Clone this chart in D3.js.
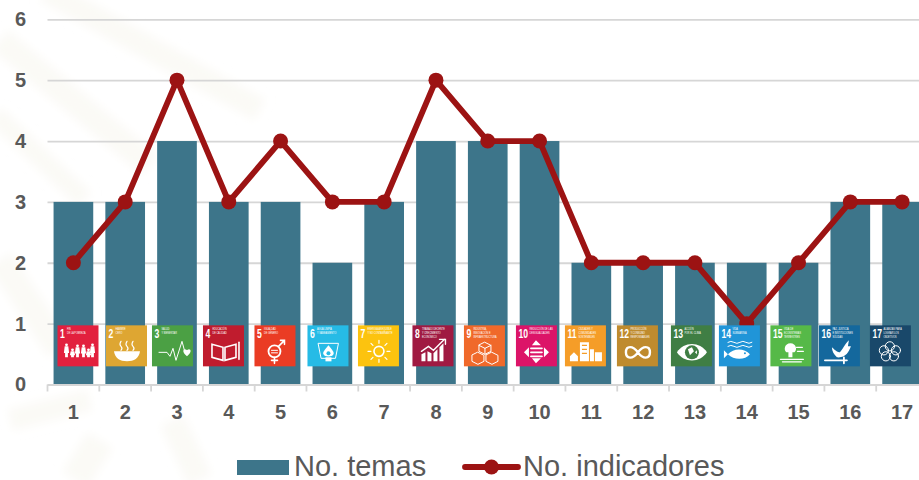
<!DOCTYPE html>
<html>
<head>
<meta charset="utf-8">
<script src="https://cdn.jsdelivr.net/npm/d3@7"></script>
<style>
	html, body { margin: 0; padding: 0; background: #fff; overflow: hidden; }
	svg { display: block; font-family: "Liberation Sans", Arial, sans-serif; }
	.axis text { font-size: 20px; font-weight: bold; fill: #595959; }
	.legend text { font-size: 29px; fill: #595959; }
	.sdg-num { font-weight: bold; font-size: 12px; fill: #fff; }
	.sdg-title { font-size: 3.3px; fill: #fff; }
</style>
</head>
<body>
<div id="chart"></div>
<script>
const categories = ["1","2","3","4","5","6","7","8","9","10","11","12","13","14","15","16","17"];
const temas = [3,3,4,3,3,2,3,4,4,4,2,2,2,2,2,3,3];
const indicadores = [2,3,5,3,4,3,3,5,4,4,2,2,2,1,2,3,3];
const yTicks = [0,1,2,3,4,5,6];
const seriesNames = ["No. temas", "No. indicadores"];

const sdgColors = ["#e2203e","#dea632","#4ba044","#c01c2e","#ea3c24","#26bbe6","#fcc30f","#a01a42","#f0692a","#dc1468",
	"#f59d28","#bf8b2e","#3f7e44","#2095d8","#56b948","#14689d","#19486a"];
const sdgTitles = [
	["FIN","DE LA POBREZA"],["HAMBRE","CERO"],["SALUD","Y BIENESTAR"],["EDUCACIÓN","DE CALIDAD"],["IGUALDAD","DE GÉNERO"],
	["AGUA LIMPIA","Y SANEAMIENTO"],["ENERGÍA ASEQUIBLE","Y NO CONTAMINANTE"],["TRABAJO DECENTE","Y CRECIMIENTO","ECONÓMICO"],
	["INDUSTRIA,","INNOVACIÓN E","INFRAESTRUCTURA"],["REDUCCIÓN DE LAS","DESIGUALDADES"],["CIUDADES Y","COMUNIDADES","SOSTENIBLES"],
	["PRODUCCIÓN","Y CONSUMO","RESPONSABLES"],["ACCIÓN","POR EL CLIMA"],["VIDA","SUBMARINA"],["VIDA DE","ECOSISTEMAS","TERRESTRES"],
	["PAZ, JUSTICIA","E INSTITUCIONES","SÓLIDAS"],["ALIANZAS PARA","LOGRAR LOS","OBJETIVOS"]
];
// icons are not centred on the bars in the original
const sdgShift = [4.6,1.3,-4.5,-5.3,-5.6,-4.4,-5.7,-3,-3.3,-3.1,-5.9,-5.7,-3.5,-7.3,-7.6,-10.9,-11.7];

const width = 919, height = 480;
const margin = {top: 19.3, left: 47.5, bottom: 384.5, right: 928};
const barColor = "#3d758a", lineColor = "#9c1313", gridColor = "#d6d6d6";

const x = d3.scaleBand().domain(categories).range([margin.left, margin.right]).paddingInner(0.234).paddingOuter(0.117);
const y = d3.scaleLinear().domain([0, 6]).range([margin.bottom, margin.top]);

const svg = d3.select("#chart").append("svg").attr("width", width).attr("height", height);

svg.append("defs").append("filter").attr("id", "soft")
	.append("feGaussianBlur").attr("stdDeviation", 5);

// faint watermark stripes behind the chart
const watermark = svg.append("g").attr("fill", "none").attr("stroke", "#fbfaf6").attr("filter", "url(#soft)");
[["M45,-10L260,110",24],["M0,40L150,165",26],["M-5,115L85,200",20],["M0,260L60,350",28],
	["M10,420L90,400",22],["M75,480L100,440",30],["M172,420L200,480",26]]
	.forEach(([d, w]) => watermark.append("path").attr("d", d).attr("stroke-width", w));

// grid and y axis
const yAxis = svg.append("g")
	.attr("class", "axis")
	.attr("transform", `translate(${margin.left},0)`)
	.call(d3.axisLeft(y).tickValues(yTicks).tickSize(-(width - margin.left)).tickFormat(d3.format("d")).tickPadding(20));
yAxis.select(".domain").remove();
yAxis.selectAll("line").attr("stroke", gridColor).attr("stroke-width", 1.8);
yAxis.selectAll("text").attr("text-anchor", "middle").attr("x", -27);

// bars
svg.append("g").selectAll("rect")
	.data(categories)
	.join("rect")
		.attr("x", (d) => x(d))
		.attr("y", (d, i) => y(temas[i]))
		.attr("width", x.bandwidth())
		.attr("height", (d, i) => y(0) - y(temas[i]))
		.attr("fill", barColor);

// x axis, ticks sit on the band edges
const step = x.step();
const xAxis = svg.append("g")
	.attr("class", "axis")
	.attr("transform", `translate(0,${y(0)})`)
	.call(d3.axisBottom(x).tickSize(0).tickPadding(20));
xAxis.select(".domain").attr("stroke", gridColor).attr("stroke-width", 1.8);
svg.append("g").selectAll("line")
	.data(categories)
	.join("line")
		.attr("x1", (d) => x(d) + x.bandwidth() / 2 - step / 2)
		.attr("x2", (d) => x(d) + x.bandwidth() / 2 - step / 2)
		.attr("y1", y(0))
		.attr("y2", y(0) + 7)
		.attr("stroke", gridColor)
		.attr("stroke-width", 1.8);

// indicators line
const line = d3.line().x((d, i) => x(categories[i]) + x.bandwidth() / 2).y((d) => y(d));
svg.append("path")
	.datum(indicadores)
	.attr("d", line)
	.attr("fill", "none")
	.attr("stroke", lineColor)
	.attr("stroke-width", 5.8)
	.attr("stroke-linejoin", "round");
svg.append("g").selectAll("circle")
	.data(indicadores)
	.join("circle")
		.attr("cx", (d, i) => x(categories[i]) + x.bandwidth() / 2)
		.attr("cy", (d) => y(d))
		.attr("r", 7.5)
		.attr("fill", lineColor);

// SDG pictograms, drawn in a 41x41 box
const s = 'fill="none" stroke="#fff" stroke-linecap="round"';
const person = (cx, h) => `<circle cx="${cx}" cy="${31.5 - h}" r="1.4" fill="#fff"/><path d="M${cx - 1.8},${33 - h}h3.6l0.8,${h * 0.55}h-1.2v${h * 0.45 - 1}h-2.8v${1 - h * 0.45}h-1.2z" fill="#fff"/>`;
const glyphs = [
	person(9,12) + person(15,7) + person(20,11) + person(26,11) + person(31,7) + person(35,12),
	`<path d="M8,26H34C33,33 28,36 21,36S9,33 8,26Z" fill="#fff"/><path d="M15,16q-2,3 0,5t0,4M21,16q-2,3 0,5t0,4M27,16q-2,3 0,5t0,4" ${s} stroke-width="1.2"/>`,
	`<path d="M7,27H15L18,31L21,23L24,35L30,16L33,27" ${s} stroke-width="1"/><path d="M35,31C30,27 31,24 33,24C34,24 35,25 35,25C35,25 36,24 37,24C39,24 40,27 35,31Z" fill="#fff"/>`,
	`<path d="M9,19L20,22V35L9,32ZM33,19L22,22V35L33,32Z" ${s} stroke-width="1.6"/><path d="M36,17V34" ${s} stroke-width="1.6"/>`,
	`<circle cx="20" cy="26" r="6" ${s} stroke-width="1.8"/><path d="M24,21L30,15M26,15H30V19M20,32V38M17,35H23" ${s} stroke-width="1.6"/><path d="M17,25H23M17,27.5H23" ${s} stroke-width="1"/>`,
	`<path d="M11,18H31L28,33H14Z" ${s} stroke-width="1"/><path d="M21,20C17,25 15,27 16,29C17,32 25,32 26,29C27,27 25,25 21,20Z" fill="#fff"/><rect x="18" y="32" width="6" height="4" fill="#fff"/><circle cx="21" cy="28" r="2" fill="#26bbe6"/>`,
	`<circle cx="21" cy="26" r="5" ${s} stroke-width="1.6"/><path d="M21,15V18M21,34V37M10,26H13M29,26H32M13,18L15,20M27,32L29,34M13,34L15,32M27,20L29,18" ${s} stroke-width="1.2"/>`,
	`<path d="M9,29V36H13V27ZM15,26V36H19V28ZM21,28V36H25V24ZM27,22V36H31V18Z" fill="#fff"/><path d="M9,26L16,21L21,25L32,14M27,14H33V19" ${s} stroke-width="1.4"/>`,
	`<path d="M21,17L27,20V26L21,29L15,26V20ZM15,20L21,23L27,20M21,23V29M14,27L20,30V36L14,39L8,36V30ZM28,27L34,30V36L28,39L22,36V30Z" ${s} stroke-width="1"/>`,
	`<path d="M20,15L25,20H16ZM20,38L25,33H16ZM8,27L13,22V32ZM33,27L28,22V32Z" fill="#fff"/><path d="M15,23H26M15,27H26M15,31H26" ${s} stroke-width="1.8"/>`,
	`<path d="M5,36V31L9,27L13,31V36ZM15,36V17H24V36ZM25,36V24H29V36ZM30,36V27H37V36Z" fill="#fff"/><path d="M17,20H22M17,24H22M17,28H22" stroke="#f59d28" stroke-width="1.2"/>`,
	`<path d="M21,27C16,20 9,20 9,27S16,34 21,27C26,20 33,20 33,27S26,34 21,27Z" ${s} stroke-width="2.4"/>`,
	`<path d="M6,27C13,16 29,16 36,27C29,38 13,38 6,27Z" fill="#fff"/><circle cx="21" cy="27" r="7" fill="#3f7e44"/><path d="M17,24L21,22L23,26L19,30ZM24,27L26,25V29Z" fill="#fff"/>`,
	`<path d="M9,17q3,-2 6,0t6,0t6,0t6,0M9,21q3,-2 6,0t6,0t6,0t6,0" ${s} stroke-width="1"/><path d="M9,29C15,22 26,23 31,29C26,35 15,35 9,29ZM9,29L5,25V33Z" fill="#fff"/><circle cx="26" cy="28" r="1" fill="#2095d8"/>`,
	`<path d="M20,18C14,18 13,25 16,27H18V32H22V27H24C27,25 26,18 20,18Z" fill="#fff"/><path d="M10,34H33M12,36.5H31M26,22H32M27,26H33" ${s} stroke-width="1.2"/>`,
	`<path d="M13,22C17,26 19,27 21,27C24,24 25,20 30,15L29,21L32,21C30,27 26,33 18,32C15,29 13,26 13,22Z" fill="#fff"/><path d="M6,35H28M25,32V38" ${s} stroke-width="1.8"/>`,
	`<circle cx="20" cy="21" r="4.6" ${s} stroke-width="1"/><circle cx="26" cy="25" r="4.6" ${s} stroke-width="1"/><circle cx="24" cy="31" r="4.6" ${s} stroke-width="1"/><circle cx="16" cy="31" r="4.6" ${s} stroke-width="1"/><circle cx="14" cy="25" r="4.6" ${s} stroke-width="1"/>`
];

// these sit above the line in the original, the value 1 marker gets covered
const icons = svg.append("g").selectAll("g")
	.data(categories)
	.join("g")
		.attr("transform", (d, i) => `translate(${x(d) + x.bandwidth() / 2 + sdgShift[i] - 20.5},${y(1) + 1.7})`);
icons.append("rect").attr("width", 41).attr("height", 41).attr("fill", (d, i) => sdgColors[i]);
icons.append("g").html((d, i) => glyphs[i]);
icons.append("text")
	.attr("class", "sdg-num")
	.attr("transform", "translate(2.5,13) scale(0.72,1)")
	.text((d) => d);
icons.each(function(d, i){
	const tx = d.length > 1 ? 13.5 : 9.5;
	d3.select(this).selectAll(".sdg-title")
		.data(sdgTitles[i])
		.join("text")
			.attr("class", "sdg-title")
			.text((t) => t)
			.attr("transform", function(t, j){
				// squeeze long lines so they stay inside the square
				const k = Math.min(0.72, (39 - tx) / this.getComputedTextLength());
				return `translate(${tx},${5 + j * 4}) scale(${k},1)`;
			});
});

// legend
const legend = svg.append("g").attr("class", "legend");
legend.append("rect").attr("x", 237).attr("y", 460).attr("width", 52).attr("height", 15).attr("fill", barColor);
legend.append("text").attr("x", 294).attr("y", 476).text(seriesNames[0]);
legend.append("line").attr("x1", 465).attr("x2", 518).attr("y1", 467).attr("y2", 467)
	.attr("stroke", lineColor).attr("stroke-width", 5.8).attr("stroke-linecap", "round");
legend.append("circle").attr("cx", 491.5).attr("cy", 467).attr("r", 7.5).attr("fill", lineColor);
legend.append("text").attr("x", 523).attr("y", 476).text(seriesNames[1]);
</script>
</body>
</html>
